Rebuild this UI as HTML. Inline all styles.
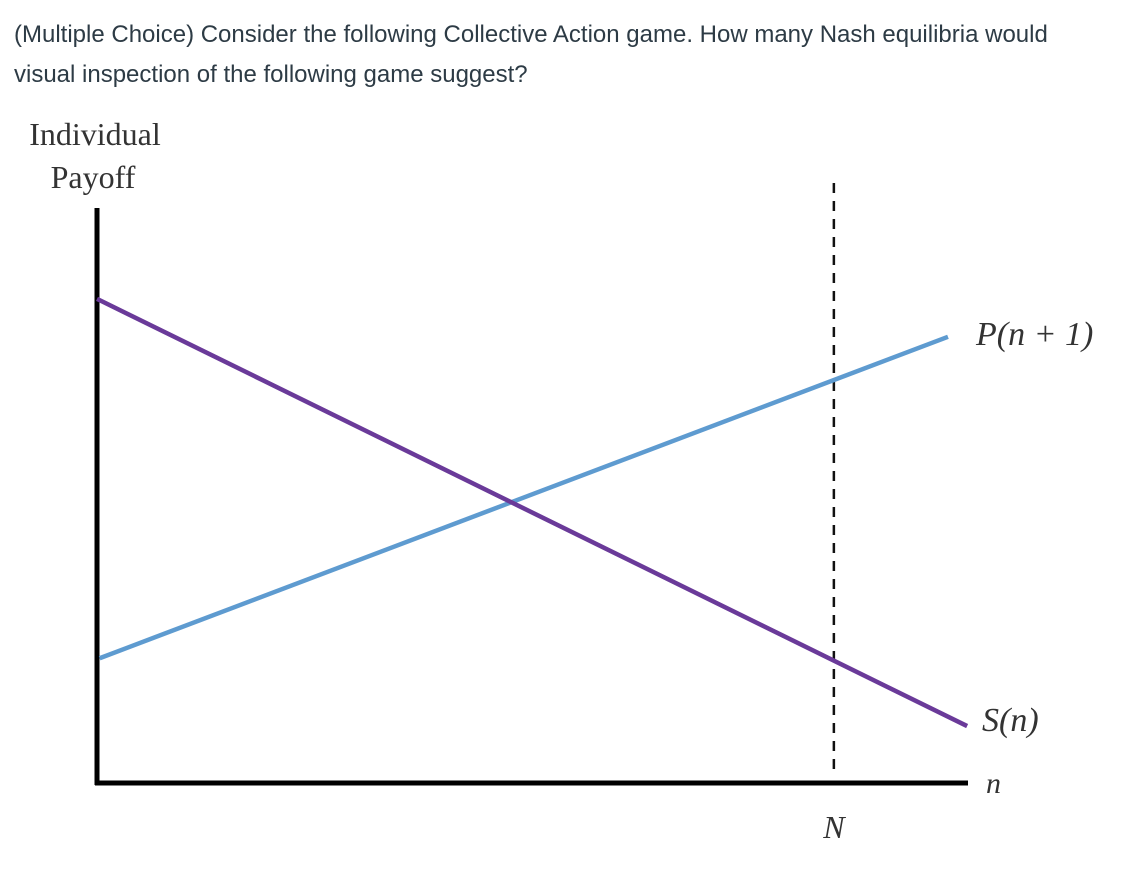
<!DOCTYPE html>
<html><head><meta charset="utf-8"><style>
body{margin:0;width:1121px;height:873px;background:#fff;overflow:hidden;font-family:"Liberation Sans",sans-serif}
.q{position:absolute;left:14px;top:15px;font-size:24px;line-height:40px;color:#2d3b45;width:1090px}
svg{position:absolute;left:0;top:0}
</style></head><body>
<div class="q">(Multiple Choice) Consider the following Collective Action game. How many Nash equilibria would visual inspection of the following game suggest?</div>
<svg width="1121" height="873" id="chart"></svg>
<script>
const seriesNames=["S(n)","P(n + 1)"];
const sX=[0,9.99], sY=[8.42,0.99];
const pX=[0.03,9.77], pY=[2.17,7.76];
const nMark=[8.46];
const ns="http://www.w3.org/2000/svg";
const svg=document.getElementById('chart');
const xs=v=>97+v*87.1, ys=v=>783-v*57.5;
function el(t,a,txt){const e=document.createElementNS(ns,t);for(const k in a)e.setAttribute(k,a[k]);if(txt)e.textContent=txt;svg.appendChild(e);return e;}
let e;
e=el('line',{x1:xs(nMark[0]),x2:xs(nMark[0]),y1:183,y2:776,stroke:'#111','stroke-width':2.5,'stroke-dasharray':'10,8'});


e=el('line',{x1:97,x2:97,y1:208,y2:785,stroke:'#000','stroke-width':5});


e=el('line',{x1:95,x2:968,y1:783,y2:783,stroke:'#000','stroke-width':5});


e=el('line',{x1:xs(pX[0]),y1:ys(pY[0]),x2:xs(pX[1]),y2:ys(pY[1]),stroke:'#5e9bd0','stroke-width':4.5});


e=el('line',{x1:xs(sX[0]),y1:ys(sY[0]),x2:xs(sX[1]),y2:ys(sY[1]),stroke:'#6a3a99','stroke-width':4.5});


const f='"Liberation Serif",serif';
e=el('text',{x:95,y:145,'font-family':f,'font-size':32,'text-anchor':'middle',fill:'#333'},'Individual');


e=el('text',{x:93,y:188,'font-family':f,'font-size':32,'text-anchor':'middle',fill:'#333'},'Payoff');


e=el('text',{x:976,y:345,'font-family':f,'font-size':34,'font-style':'italic',fill:'#333'},seriesNames[1]);


e=el('text',{x:982,y:731,'font-family':f,'font-size':34,'font-style':'italic',fill:'#333'},seriesNames[0]);


e=el('text',{x:986,y:793,'font-family':f,'font-size':30,'font-style':'italic',fill:'#333'},'n');


e=el('text',{x:xs(nMark[0]),y:838,'font-family':f,'font-size':32,'font-style':'italic','text-anchor':'middle',fill:'#333'},'N');


</script>
</body></html>
